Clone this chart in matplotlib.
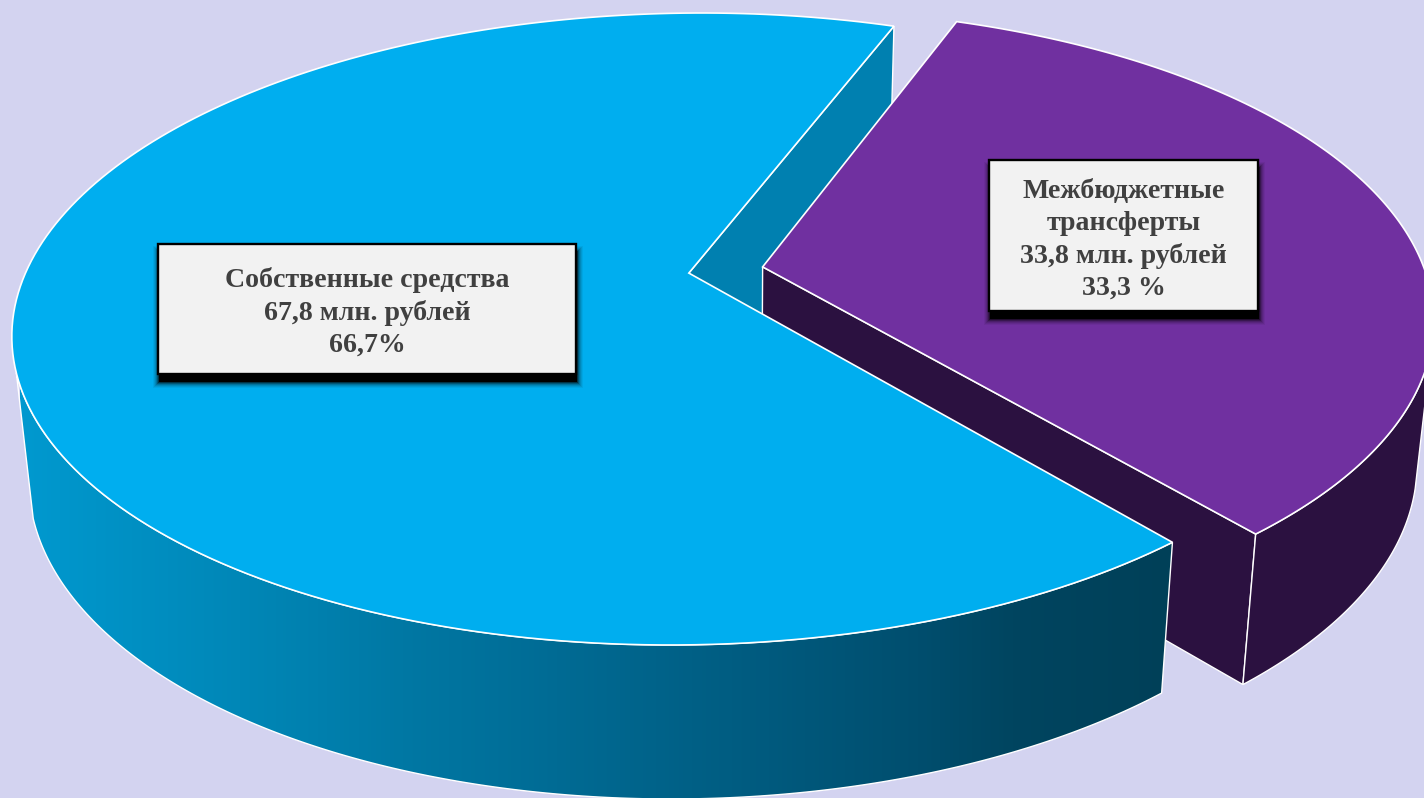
#! /usr/bin/env python

import numpy as np
import matplotlib
matplotlib.use('Agg')
import matplotlib.pyplot as plt
from matplotlib.patches import Polygon, Rectangle
from matplotlib.colors import LinearSegmentedColormap

##
## Data
##
categories = ['Собственные средства', 'Межбюджетные\nтрансферты']
values = [67.8, 33.8]
value_labels = ['67,8 млн. рублей', '33,8 млн. рублей']
share_labels = ['66,7%', '33,3 %']

BG = '#d3d3f0'
BLUE = '#00aeef'
BLUE_WALL = '#0080b0'
PURPLE = '#7030a0'
DARK = '#2b1140'

# projected ellipses of the top and bottom faces (pixels)
TOP = dict(cx=686, cy=329, a=674, b=316, k=16)
BOT = dict(cx=687, cy=473, a=658, b=326, k=16)
TILT = 0.177
START = 70.2
EXPLODE = 0.113


def project(x, y, e):
    # perspective of the flat disc, then into pixels
    d = 1 + TILT * y
    xp = x * np.sqrt(1 - TILT**2) / d
    yp = (y + TILT) / d
    return e['cx'] + e['a'] * xp + e['k'] * yp, e['cy'] - e['b'] * yp


def rim(t1, t2, e, off=(0, 0)):
    t = np.radians(np.linspace(t1, t2, 200))
    px, py = project(np.cos(t) + off[0], np.sin(t) + off[1], e)
    return np.column_stack([px, py])


def point(t, e, off=(0, 0)):
    if t is None:
        return np.array(project(off[0], off[1], e))
    return rim(t, t, e, off)[0]


def wall(ax, pts, color, zorder):
    ax.add_patch(Polygon(pts, closed=True, fc=color, ec='white', lw=1.0, zorder=zorder))


fig = plt.figure(figsize=(14.24, 7.98), dpi=100, facecolor=BG)
ax = fig.add_axes([0, 0, 1, 1])
ax.set_xlim(0, 1424)
ax.set_ylim(798, 0)
ax.axis('off')

# slice angles come from the values
sweep = 360.0 * np.array(values) / sum(values)
b1, b2 = START, START + sweep[0]
p1, p2 = b2 - 360, START
mid = np.radians((p1 + p2) / 2)
off = (EXPLODE * np.cos(mid), EXPLODE * np.sin(mid))

# notch wall of the blue slice
wall(ax, [point(None, TOP), point(b1, TOP), point(b1, BOT), point(None, BOT)], BLUE_WALL, 1)

# purple slice
wall(ax, [point(None, TOP, off), point(p1, TOP, off), point(p1, BOT, off), point(None, BOT, off)], DARK, 2)
wall(ax, np.vstack([rim(p1, -14, TOP, off), rim(-14, p1, BOT, off)]), DARK, 3)
ax.add_patch(Polygon(np.vstack([point(None, TOP, off)[None], rim(p1, p2, TOP, off)]),
                     closed=True, fc=PURPLE, ec='white', lw=1.2, zorder=4))

# outer wall of the blue slice with the gradient
side = np.vstack([rim(198, b2, TOP), rim(b2, 198, BOT)])
cmap = LinearSegmentedColormap.from_list('side', [(0, '#0099cf'), (0.22, '#0084b3'), (0.33, '#0078a4'),
                                                  (0.55, '#00638a'), (0.78, '#004e6e'), (0.86, '#004560'),
                                                  (1, '#004058')])
poly = Polygon(side, closed=True, fc='none', ec='white', lw=1.0, zorder=6)
ax.add_patch(poly)
im = ax.imshow(np.linspace(0, 1, 512)[None, :], cmap=cmap, extent=[20, 1175, 800, 350], aspect='auto', zorder=5)
im.set_clip_path(poly)
ax.set_xlim(0, 1424)
ax.set_ylim(798, 0)

# blue top
ax.add_patch(Polygon(np.vstack([point(None, TOP)[None], rim(b1, b2, TOP)]),
                     closed=True, fc=BLUE, ec='white', lw=1.2, zorder=7))

# label boxes
boxes = [(158, 244, 418, 130), (989, 160, 269, 151)]
text_y = [312, 240]
for i in range(2):
    x, y, w, h = boxes[i]
    for grow, alpha in [(6, 0.05), (5, 0.08), (4, 0.1), (3, 0.15), (2, 0.25), (1, 0.4), (0, 1)]:
        ax.add_patch(Rectangle((x + 1 - grow, y + 8 - grow), w + 2 * grow, h + 2 * grow,
                               fc='black', ec='none', alpha=alpha, zorder=8))
    ax.add_patch(Rectangle((x, y), w, h, fc='#f2f2f2', ec='black', lw=1.7, zorder=9))
    ax.text(x + w / 2, text_y[i], categories[i] + '\n' + value_labels[i] + '\n' + share_labels[i],
            ha='center', va='center', ma='center', color='#404040', family='Liberation Serif',
            fontweight='bold', fontsize=20.1, linespacing=1.35, zorder=10)

fig.savefig('out.png', dpi=100, facecolor=BG)
